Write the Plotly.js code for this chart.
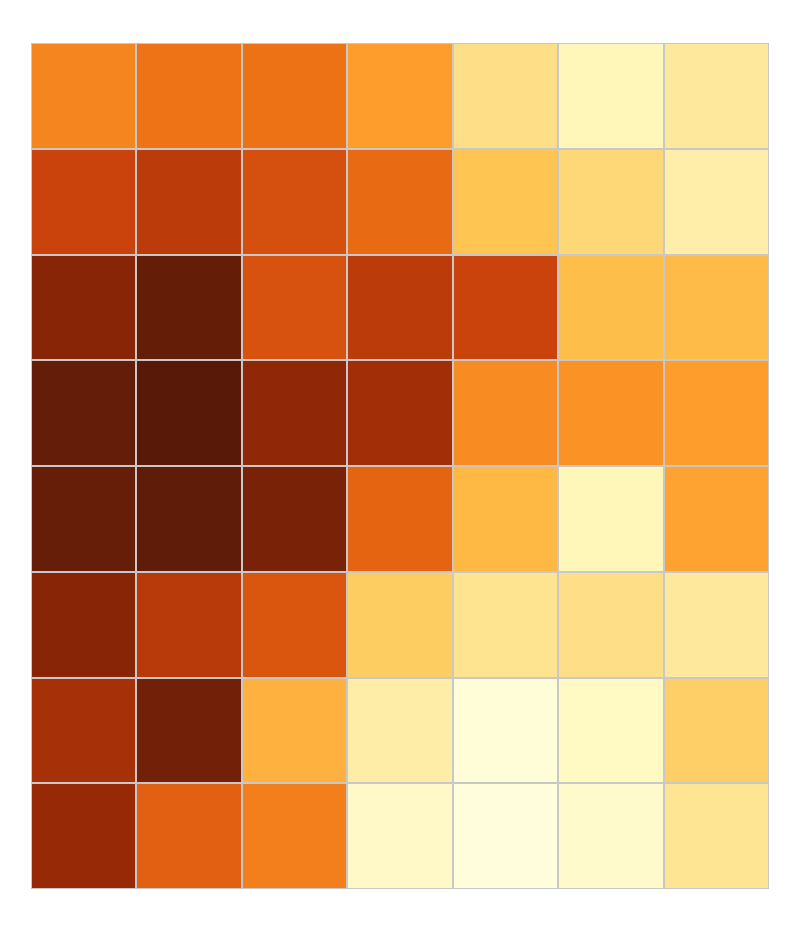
<!DOCTYPE html>
<html>
<head>
<meta charset="utf-8">
<script src="https://cdn.plot.ly/plotly-3.0.1.min.js"></script>
<style>html,body{margin:0;padding:0;background:#fff;}#chart{width:800px;height:933px;}</style>
</head>
<body>
<div id="chart"></div>
<script>
var columns = [0, 1, 2, 3, 4, 5, 6];
var rows = [0, 1, 2, 3, 4, 5, 6, 7];
var row0 = [0.56, 0.616, 0.62, 0.49, 0.27, 0.13, 0.22];
var row1 = [0.76, 0.79, 0.72, 0.64, 0.37, 0.30, 0.18];
var row2 = [0.91, 1.01, 0.71, 0.79, 0.76, 0.39, 0.40];
var row3 = [1.02, 1.09, 0.89, 0.85, 0.54, 0.52, 0.49];
var row4 = [1.00, 1.05, 0.95, 0.66, 0.41, 0.13, 0.47];
var row5 = [0.91, 0.80, 0.70, 0.34, 0.25, 0.27, 0.22];
var row6 = [0.84, 0.97, 0.43, 0.19, 0.04, 0.10, 0.33];
var row7 = [0.87, 0.67, 0.58, 0.09, 0.03, 0.08, 0.24];

var zmax = 1.2;
var scaleStops = [0, 0.125, 0.25, 0.375, 0.5, 0.625, 0.75, 0.875, 1.0, 1.2];
var scaleColors = ['#ffffe5', '#fff7bc', '#fee391', '#fec44f', '#fe9929', '#ec7014', 'rgb(206,68,12)', 'rgb(150,40,6)', 'rgb(102,30,8)', 'rgb(70,20,10)'];
var colorscale = scaleStops.map(function (s, i) { return [s / zmax, scaleColors[i]]; });

var trace = {
  type: 'heatmap',
  x: columns,
  y: rows,
  z: [row0, row1, row2, row3, row4, row5, row6, row7],
  zmin: 0,
  zmax: zmax,
  colorscale: colorscale,
  showscale: false,
  xgap: 2,
  ygap: 2,
  hoverinfo: 'z'
};

var layout = {
  width: 800,
  height: 933,
  margin: {l: 31, r: 31, t: 43, b: 44, pad: 0},
  paper_bgcolor: '#ffffff',
  plot_bgcolor: '#c8c8c8',
  xaxis: {showticklabels: false, showgrid: false, zeroline: false, ticks: '', showline: false},
  yaxis: {showticklabels: false, showgrid: false, zeroline: false, ticks: '', showline: false, autorange: 'reversed'}
};

Plotly.newPlot('chart', [trace], layout, {displayModeBar: false, staticPlot: true});
</script>
</body>
</html>
